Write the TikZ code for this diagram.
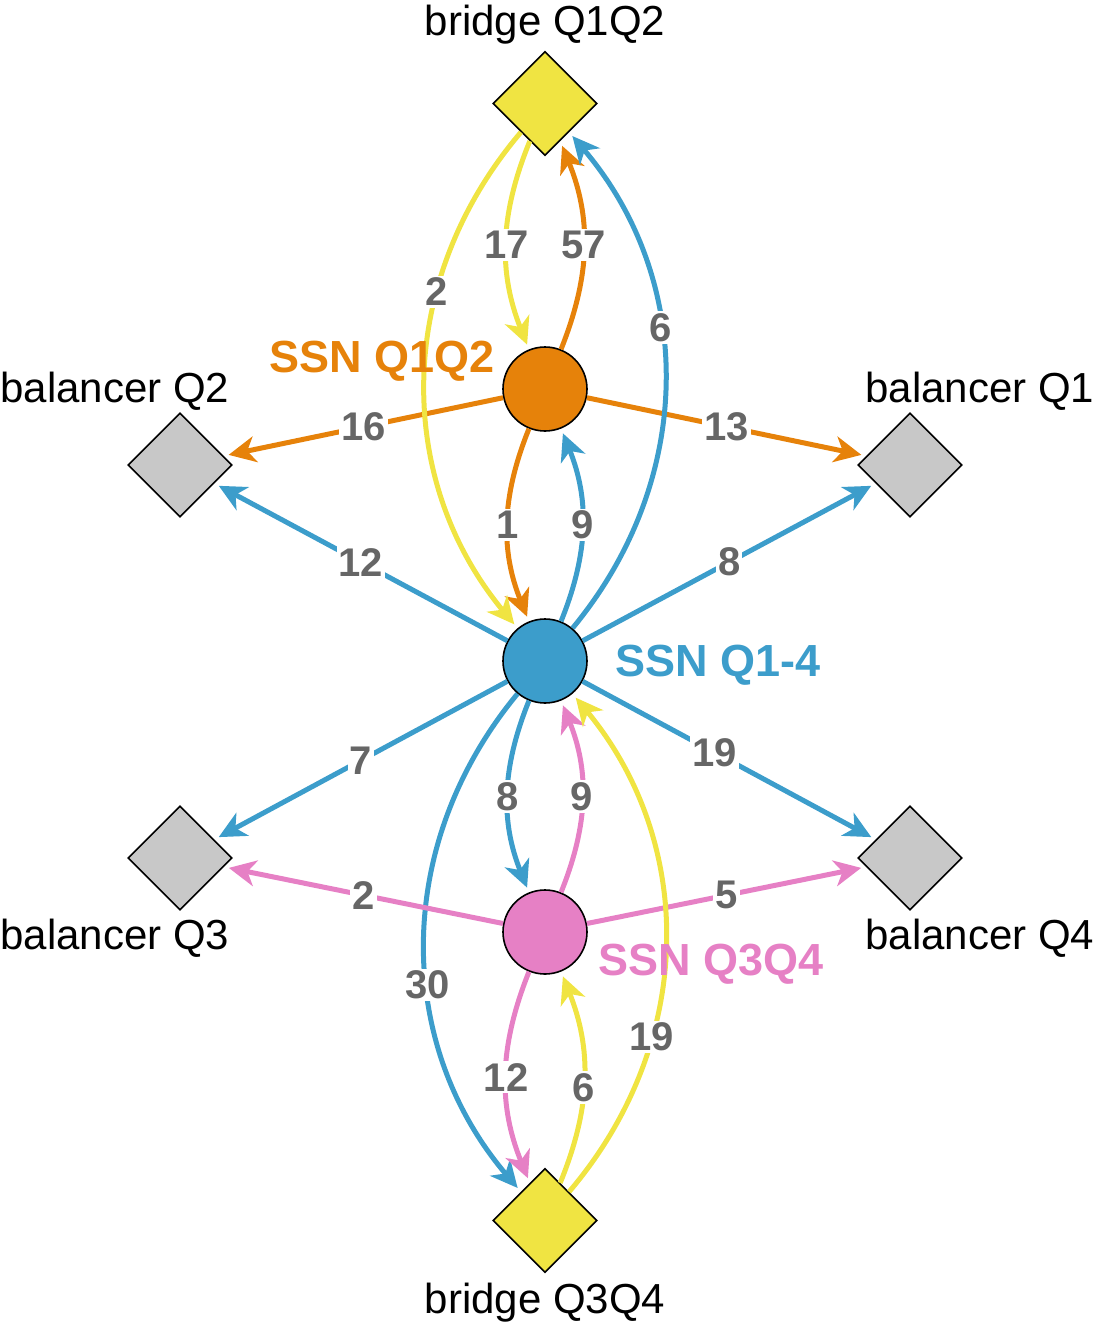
\documentclass[tikz,border=0pt]{standalone}
\usepackage{fontspec}
\setmainfont{Liberation Sans}
\usetikzlibrary{shapes.geometric,arrows.meta}
\definecolor{corange}{HTML}{E6820A}
\definecolor{cblue}{HTML}{3C9DCB}
\definecolor{cpink}{HTML}{E680C5}
\definecolor{cyellow}{HTML}{F0E442}
\definecolor{cgray}{HTML}{C8C8C8}
\definecolor{clabel}{HTML}{666666}
\tikzset{
  ssn/.style={circle, draw=black, line width=1.6pt, minimum size=84pt, inner sep=0pt},
  dia/.style={diamond, draw=black, line width=1.6pt, minimum width=104pt, minimum height=104pt, inner sep=0pt},
  edge/.style={line width=5pt, -{Stealth[length=27pt,width=26pt,inset=8pt]}, shorten >=5pt},
  elabel/.style={font=\fontsize{40}{44}\selectfont\bfseries, text=clabel, fill=white, inner sep=2pt},
  nlabel/.style={font=\fontsize{42}{48}\selectfont, text=black, inner sep=0pt, anchor=base},
  slabel/.style={font=\fontsize{45}{50}\selectfont\bfseries, inner sep=0pt, anchor=base},
  small/.style={bend right=22},
  big/.style={bend right=40}
}
\begin{document}
\begin{tikzpicture}[x=1pt,y=-1pt]
\useasboundingbox (0,0) rectangle (1096,1328);
% nodes
\node[ssn, fill=corange] (s12) at (545,389) {};
\node[ssn, fill=cblue] (s14) at (545,661) {};
\node[ssn, fill=cpink] (s34) at (545,932) {};
\node[dia, fill=cyellow] (b12) at (545,103.5) {};
\node[dia, fill=cyellow] (b34) at (545,1220.5) {};
\node[dia, fill=cgray] (bq2) at (180,465) {};
\node[dia, fill=cgray] (bq1) at (910,465) {};
\node[dia, fill=cgray] (bq3) at (180,858) {};
\node[dia, fill=cgray] (bq4) at (910,858) {};
% node texts
\node[nlabel] (tb12) at (545,35) {bridge Q1Q2};
\node[nlabel] (tb34) at (545,1313) {bridge Q3Q4};
\node[nlabel] (tq2) at (115,402) {balancer Q2};
\node[nlabel] (tq1) at (980,402) {balancer Q1};
\node[nlabel] (tq3) at (115,949) {balancer Q3};
\node[nlabel] (tq4) at (980,949) {balancer Q4};
% edges: orange
\draw[edge, corange] (s12) to[small] node[elabel]{57} (b12);
\draw[edge, corange] (s12) -- node[elabel]{16} (bq2);
\draw[edge, corange] (s12) -- node[elabel]{13} (bq1);
\draw[edge, corange] (s12) to[small] node[elabel]{1} (s14);
% yellow from bridge Q1Q2
\draw[edge, cyellow] (b12) to[small] node[elabel]{17} (s12);
\draw[edge, cyellow] (b12) to[big] node[elabel, pos=0.33]{2} (s14);
% blue
\draw[edge, cblue] (s14) to[big] node[elabel, pos=0.6]{6} (b12);
\draw[edge, cblue] (s14) to[small] node[elabel]{9} (s12);
\draw[edge, cblue] (s14) -- node[elabel]{12} (bq2);
\draw[edge, cblue] (s14) -- node[elabel]{8} (bq1);
\draw[edge, cblue] (s14) -- node[elabel]{7} (bq3);
\draw[edge, cblue] (s14) -- node[elabel, pos=0.45]{19} (bq4);
\draw[edge, cblue] (s14) to[small] node[elabel]{8} (s34);
\draw[edge, cblue] (s14) to[big] node[elabel, pos=0.58]{30} (b34);
% pink
\draw[edge, cpink] (s34) to[small] node[elabel]{9} (s14);
\draw[edge, cpink] (s34) -- node[elabel]{2} (bq3);
\draw[edge, cpink] (s34) -- node[elabel]{5} (bq4);
\draw[edge, cpink] (s34) to[small] node[elabel]{12} (b34);
% yellow from bridge Q3Q4
\draw[edge, cyellow] (b34) to[small] node[elabel, pos=0.45]{6} (s34);
\draw[edge, cyellow] (b34) to[big] node[elabel, pos=0.32]{19} (s14);
% ssn labels
\node[slabel, text=corange] (ts12) at (382,372) {SSN Q1Q2};
\node[slabel, text=cblue] (ts14) at (718,676) {SSN Q1-4};
\node[slabel, text=cpink] (ts34) at (711,975) {SSN Q3Q4};
\end{tikzpicture}
\end{document}
